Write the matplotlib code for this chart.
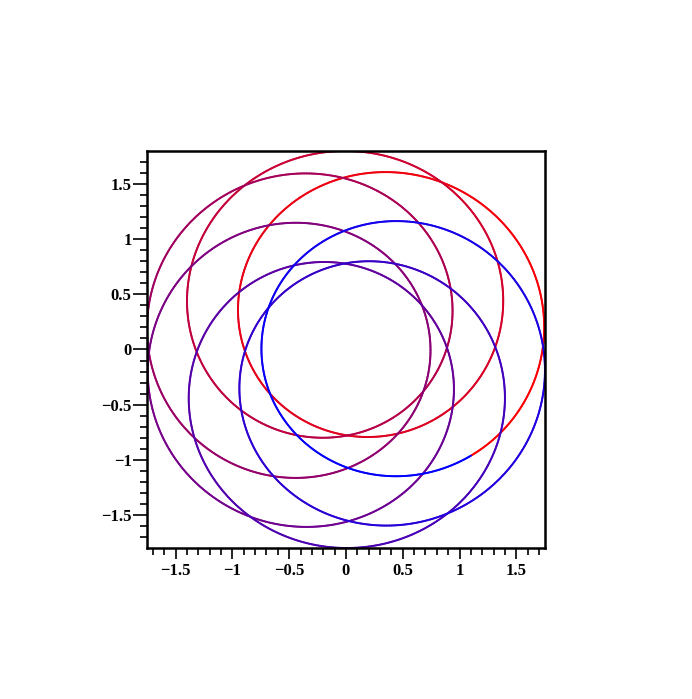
import numpy as np
import matplotlib
matplotlib.use("Agg")
import matplotlib.pyplot as plt
from matplotlib.collections import LineCollection
from matplotlib.colors import LinearSegmentedColormap
from matplotlib.ticker import MultipleLocator, FixedLocator, FuncFormatter

# parametric curve = two rotating arms
arm_radius = [0.528, 1.272]
arm_speed = [1, 7]
arm_phase_deg = [17.7, -62.0]
color_ends = ["#ff0000", "#0000ff"]
major_ticks = [-1.5, -1, -0.5, 0, 0.5, 1, 1.5]


def fmt(v, pos):
    return f"{v:g}".replace("-", "\u2212")


s = np.linspace(0, 2 * np.pi, 4000)
z = sum(a * np.exp(1j * (k * s + np.radians(p)))
        for a, k, p in zip(arm_radius, arm_speed, arm_phase_deg))

pts = np.column_stack([z.real, z.imag]).reshape(-1, 1, 2)
segs = np.concatenate([pts[:-1], pts[1:]], axis=1)
cmap = LinearSegmentedColormap.from_list("red_blue", color_ends)

fig = plt.figure(figsize=(6.92, 6.99), dpi=100)
ax = fig.add_axes([0.2124, 0.216, 0.5751, 0.568])

lc = LineCollection(segs, cmap=cmap, linewidth=1.4, capstyle="round")
lc.set_array(s[:-1])
ax.add_collection(lc)
ax.set_xlim(z.real.min(), z.real.max())
ax.set_ylim(z.imag.min(), z.imag.max())

for side in ax.spines.values():
    side.set_linewidth(1.8)

ax.xaxis.set_major_locator(FixedLocator(major_ticks))
ax.yaxis.set_major_locator(FixedLocator(major_ticks))
ax.xaxis.set_minor_locator(MultipleLocator(0.1))
ax.yaxis.set_minor_locator(MultipleLocator(0.1))
ax.xaxis.set_major_formatter(FuncFormatter(fmt))
ax.yaxis.set_major_formatter(FuncFormatter(fmt))

ax.tick_params(axis="both", which="both", direction="out", width=1.2,
               top=False, right=False)
ax.tick_params(axis="x", which="major", length=8, pad=3)
ax.tick_params(axis="y", which="major", length=10, pad=1)
ax.tick_params(axis="both", which="minor", length=5)

for lab in ax.get_xticklabels() + ax.get_yticklabels():
    lab.set_fontfamily("Liberation Serif")
    lab.set_fontweight("bold")
    lab.set_fontsize(12)

fig.savefig("out.png", dpi=100)
